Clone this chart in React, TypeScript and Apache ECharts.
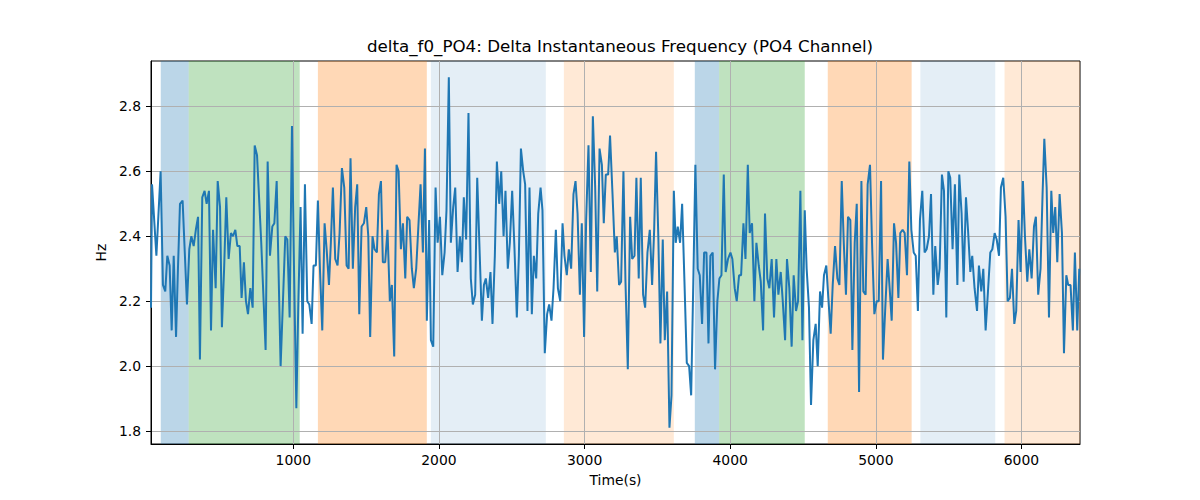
import React, { useEffect, useRef } from 'react';
import * as echarts from 'echarts';

// sample times (s) and delta f0 values (Hz)
const sampleTime = [
  23, 30, 60, 89, 105, 121, 135, 151, 165, 179, 195, 208, 222, 240, 255, 270, 286, 300, 316, 331,
  346, 359, 375, 391, 405, 421, 435, 449, 467, 481, 497, 510, 525, 540, 556, 572, 586, 602, 616, 632,
  645, 661, 675, 689, 705, 721, 735, 751, 780, 810, 824, 840, 856, 870, 886, 899, 913, 929, 945, 959,
  975, 991, 1005, 1021, 1034, 1050, 1064, 1080, 1096,
  1110, 1126, 1139, 1155, 1169, 1183, 1199, 1215, 1229, 1245, 1258, 1272, 1288, 1304, 1318, 1334, 1350, 1366, 1380, 1393,
  1409, 1425, 1439, 1453, 1469, 1485, 1501, 1515, 1528, 1544, 1558, 1574, 1588, 1602, 1615, 1631, 1647, 1663, 1677, 1693,
  1709, 1723, 1739, 1753, 1769, 1782, 1798, 1814, 1828, 1844, 1860, 1874, 1890, 1904, 1917, 1933, 1945, 1961, 1977, 1991,
  2007, 2023, 2039, 2052, 2068, 2082, 2098, 2112, 2128, 2144,
  2158, 2171, 2187, 2203, 2219, 2233, 2249, 2263, 2279, 2295, 2309, 2322, 2338, 2354, 2368, 2384, 2398, 2414, 2428, 2444,
  2457, 2473, 2487, 2503, 2519, 2535, 2549, 2563, 2579, 2592, 2608, 2622, 2638, 2652, 2668, 2682, 2698, 2711, 2727, 2743,
  2757, 2773, 2787, 2803, 2817, 2833, 2849, 2862, 2878, 2892, 2908, 2924, 2938, 2952, 2968, 2981, 2997, 3011, 3027, 3043,
  3057, 3073, 3087, 3103, 3119, 3132, 3146, 3162,
  3175, 3192, 3208, 3221, 3237, 3251, 3267, 3281, 3297, 3313, 3327, 3343, 3356, 3372, 3386, 3402, 3416, 3432, 3448, 3464,
  3478, 3491, 3507, 3521, 3537, 3551, 3567, 3583, 3597, 3613, 3626, 3640, 3656, 3670, 3686, 3702, 3718, 3732, 3748, 3761,
  3777, 3791, 3807, 3821, 3837, 3851, 3864, 3880, 3896, 3912, 3926, 3940, 3956, 3969, 3985, 4002, 4015, 4031, 4045, 4061,
  4075, 4091, 4105, 4121, 4134, 4150, 4166, 4180, 4196, 4210, 4226,
  4239, 4255, 4269, 4285, 4301, 4317, 4331, 4347, 4361, 4377, 4390, 4406, 4422, 4436, 4452, 4466, 4482, 4496, 4512, 4525,
  4541, 4555, 4571, 4587, 4601, 4617, 4631, 4644, 4660, 4674, 4690, 4704, 4720, 4736, 4750, 4766, 4780, 4795, 4809, 4825,
  4839, 4855, 4869, 4885, 4901, 4914, 4930, 4944, 4960, 4974, 4990, 5006, 5020, 5036, 5049, 5065, 5081, 5095, 5109, 5125,
  5139, 5155, 5168, 5184, 5198, 5214, 5230, 5244, 5260, 5274,
  5289, 5303, 5319, 5335, 5349, 5365, 5379, 5395, 5408, 5425, 5438, 5454, 5468, 5484, 5498, 5511, 5527, 5543, 5560, 5573,
  5589, 5603, 5619, 5633, 5649, 5662, 5678, 5695, 5708, 5724, 5738, 5754, 5770, 5786, 5800, 5816, 5830, 5846, 5859, 5875,
  5891, 5905, 5921, 5935, 5951, 5964, 5980, 5994, 6010, 6024, 6040, 6054, 6070, 6086, 6099, 6115, 6131, 6145, 6157, 6173,
  6189, 6205, 6218, 6232, 6246, 6262, 6278, 6292, 6308, 6321, 6337, 6353, 6367, 6383, 6397,
];

const sampleHz = [
  2.18, 2.56, 2.34, 2.60, 2.25, 2.23, 2.34, 2.31, 2.11, 2.34, 2.09, 2.30, 2.50, 2.51, 2.35, 2.19, 2.36, 2.40, 2.37, 2.42,
  2.46, 2.02, 2.52, 2.54, 2.50, 2.54, 2.11, 2.42, 2.24, 2.57, 2.49, 2.12, 2.30, 2.52, 2.33, 2.41, 2.40, 2.42, 2.37, 2.37,
  2.21, 2.32, 2.20, 2.16, 2.24, 2.18, 2.68, 2.65, 2.38, 2.05, 2.63, 2.34, 2.43, 2.44, 2.57, 2.29, 2.00, 2.20, 2.40, 2.39,
  2.15, 2.74, 2.30, 1.87, 2.18, 2.49, 2.10, 2.56, 2.20,
  2.19, 2.13, 2.31, 2.31, 2.51, 2.30, 2.11, 2.44, 2.36, 2.25, 2.38, 2.55, 2.33, 2.31, 2.41, 2.61, 2.55, 2.31, 2.30, 2.64,
  2.30, 2.49, 2.56, 2.16, 2.43, 2.44, 2.49, 2.40, 2.09, 2.40, 2.36, 2.35, 2.53, 2.57, 2.32, 2.32, 2.42, 2.20, 2.25, 2.03,
  2.62, 2.60, 2.36, 2.44, 2.27, 2.46, 2.45, 2.30, 2.24, 2.30, 2.44, 2.56, 2.35, 2.67, 2.14, 2.45, 2.08, 2.06, 2.55, 2.38,
  2.46, 2.28, 2.35, 2.48, 2.89, 2.38, 2.49, 2.55, 2.29, 2.40,
  2.32, 2.52, 2.39, 2.78, 2.27, 2.19, 2.22, 2.58, 2.36, 2.14, 2.25, 2.27, 2.21, 2.29, 2.13, 2.34, 2.63, 2.50, 2.60, 2.40,
  2.54, 2.30, 2.38, 2.54, 2.36, 2.15, 2.34, 2.67, 2.60, 2.56, 2.17, 2.55, 2.16, 2.34, 2.27, 2.47, 2.55, 2.48, 2.04, 2.16,
  2.19, 2.14, 2.24, 2.42, 2.24, 2.20, 2.44, 2.34, 2.28, 2.36, 2.30, 2.53, 2.57, 2.47, 2.22, 2.44, 2.09, 2.45, 2.68, 2.29,
  2.77, 2.55, 2.23, 2.67, 2.62, 2.44, 2.59, 2.59,
  2.71, 2.53, 2.35, 2.40, 2.25, 2.26, 2.60, 2.26, 1.99, 2.46, 2.33, 2.34, 2.58, 2.27, 2.58, 2.22, 2.18, 2.35, 2.42, 2.25,
  2.42, 2.66, 2.39, 2.07, 2.39, 2.08, 2.23, 1.81, 1.91, 2.54, 2.38, 2.43, 2.38, 2.50, 2.26, 2.01, 2.00, 1.91, 2.29, 2.62,
  2.30, 2.28, 2.13, 2.35, 2.35, 2.07, 2.34, 2.35, 1.99, 2.20, 2.27, 2.28, 2.59, 2.29, 2.33, 2.35, 2.33, 2.24, 2.20, 2.28,
  2.28, 2.44, 2.33, 2.62, 2.41, 2.44, 2.20, 2.38, 2.31, 2.26, 2.11,
  2.47, 2.27, 2.24, 2.33, 2.15, 2.33, 2.22, 2.29, 2.20, 2.08, 2.33, 2.24, 2.06, 2.28, 2.17, 2.20, 2.54, 2.08, 2.48, 2.30,
  2.18, 1.88, 2.08, 2.13, 2.00, 2.23, 2.18, 2.28, 2.31, 2.21, 2.10, 2.25, 2.37, 2.27, 2.25, 2.57, 2.38, 2.22, 2.46, 2.45,
  2.05, 2.38, 2.50, 1.92, 2.57, 2.23, 2.22, 2.56, 2.62, 2.38, 2.16, 2.20, 2.20, 2.57, 2.02, 2.18, 2.33, 2.24, 2.14, 2.44,
  2.38, 2.21, 2.41, 2.42, 2.41, 2.28, 2.63, 2.42, 2.35, 2.34,
  2.17, 2.45, 2.54, 2.35, 2.36, 2.40, 2.53, 2.22, 2.37, 2.25, 2.30, 2.59, 2.54, 2.15, 2.60, 2.58, 2.36, 2.56, 2.25, 2.59,
  2.47, 2.26, 2.52, 2.42, 2.29, 2.34, 2.24, 2.17, 2.31, 2.23, 2.30, 2.11, 2.23, 2.35, 2.36, 2.41, 2.39, 2.34, 2.55, 2.58,
  2.46, 2.20, 2.21, 2.30, 2.13, 2.17, 2.45, 2.29, 2.57, 2.40, 2.26, 2.36, 2.27, 2.43, 2.46, 2.22, 2.30, 2.53, 2.70, 2.55,
  2.15, 2.54, 2.41, 2.49, 2.32, 2.53, 2.41, 2.04, 2.28, 2.25, 2.25, 2.11, 2.35, 2.11, 2.30,
];

const xTicks = [1000, 2000, 3000, 4000, 5000, 6000];
const yTicks = [1.8, 2.0, 2.2, 2.4, 2.6, 2.8];
const xRange = [23, 6402];
const yRange = [1.76, 2.94];

// shaded segments (time span and segment kind)
const segStart = [90, 282, 1169, 1945, 2858, 3757, 3924, 4670, 5306, 5884];
const segEnd = [282, 1044, 1917, 2734, 3613, 3924, 4512, 5246, 5820, 6402];
const segKind = ['A', 'B', 'C', 'D', 'E', 'A', 'B', 'C', 'D', 'E'];

const kindColor: Record<string, string> = {
  A: 'rgba(31,119,180,0.3)',
  B: 'rgba(44,160,44,0.3)',
  C: 'rgba(255,127,14,0.3)',
  D: 'rgba(31,119,180,0.12)',
  E: 'rgba(255,127,14,0.17)',
};

const FONT = 'DejaVu Sans';

const App: React.FC = () => {
  const chartRef = useRef<HTMLDivElement | null>(null);

  useEffect(() => {
    if (!chartRef.current) return;
    const chart = echarts.init(chartRef.current, undefined, { renderer: 'svg' });

    const points = sampleTime.map((t, i) => [t, sampleHz[i]]);
    const bands = segStart.map((s, i) => [
      { xAxis: s, itemStyle: { color: kindColor[segKind[i]] } },
      { xAxis: segEnd[i] },
    ]);

    const option = {
      animation: false,
      backgroundColor: '#fff',
      title: {
        text: 'delta_f0_PO4: Delta Instantaneous Frequency (PO4 Channel)',
        left: 615,
        top: 32,
        textAlign: 'center',
        textStyle: { fontFamily: FONT, fontSize: 16.7, fontWeight: 'normal', color: '#000' },
      },
      grid: {
        left: 151,
        right: 120,
        top: 61,
        bottom: 56,
        show: true,
        borderColor: '#000',
        borderWidth: 1,
        backgroundColor: 'transparent',
      },
      xAxis: {
        type: 'value',
        min: xRange[0],
        max: xRange[1],
        z: 2,
        name: 'Time(s)',
        nameLocation: 'middle',
        nameGap: 29,
        nameTextStyle: { fontFamily: FONT, fontSize: 13.9, color: '#000' },
        axisLine: { show: true, lineStyle: { color: '#000', width: 1 } },
        axisTick: { show: true, inside: false, length: 5, customValues: xTicks, lineStyle: { color: '#000' } },
        axisLabel: {
          customValues: xTicks,
          margin: 9,
          fontFamily: FONT,
          fontSize: 13.9,
          color: '#000',
          formatter: (v: number) => String(v),
        },
        splitLine: { show: true, lineStyle: { color: '#b0b0b0', width: 1 } },
      },
      yAxis: {
        type: 'value',
        min: yRange[0],
        max: yRange[1],
        z: 2,
        name: 'Hz',
        nameLocation: 'middle',
        nameGap: 38,
        nameTextStyle: { fontFamily: FONT, fontSize: 13.9, color: '#000' },
        axisLine: { show: true, lineStyle: { color: '#000', width: 1 } },
        axisTick: { show: true, inside: false, length: 5, customValues: yTicks, lineStyle: { color: '#000' } },
        axisLabel: {
          customValues: yTicks,
          margin: 10,
          fontFamily: FONT,
          fontSize: 13.9,
          color: '#000',
          formatter: (v: number) => v.toFixed(1),
        },
        splitLine: { show: true, lineStyle: { color: '#b0b0b0', width: 1 } },
      },
      series: [
        {
          type: 'line',
          name: 'segments',
          data: [],
          z: 1,
          silent: true,
          markArea: { silent: true, data: bands },
        },
        {
          type: 'line',
          name: 'delta_f0',
          data: points,
          z: 3,
          showSymbol: false,
          lineStyle: { color: '#1f77b4', width: 2 },
          itemStyle: { color: '#1f77b4' },
        },
      ],
    };

    chart.setOption(option);
    return () => {
      chart.dispose();
    };
  }, []);

  return (
    <div
      ref={chartRef}
      style={{ position: 'fixed', left: 0, top: 0, width: '1200px', height: '500px' }}
    />
  );
};

export default App;
